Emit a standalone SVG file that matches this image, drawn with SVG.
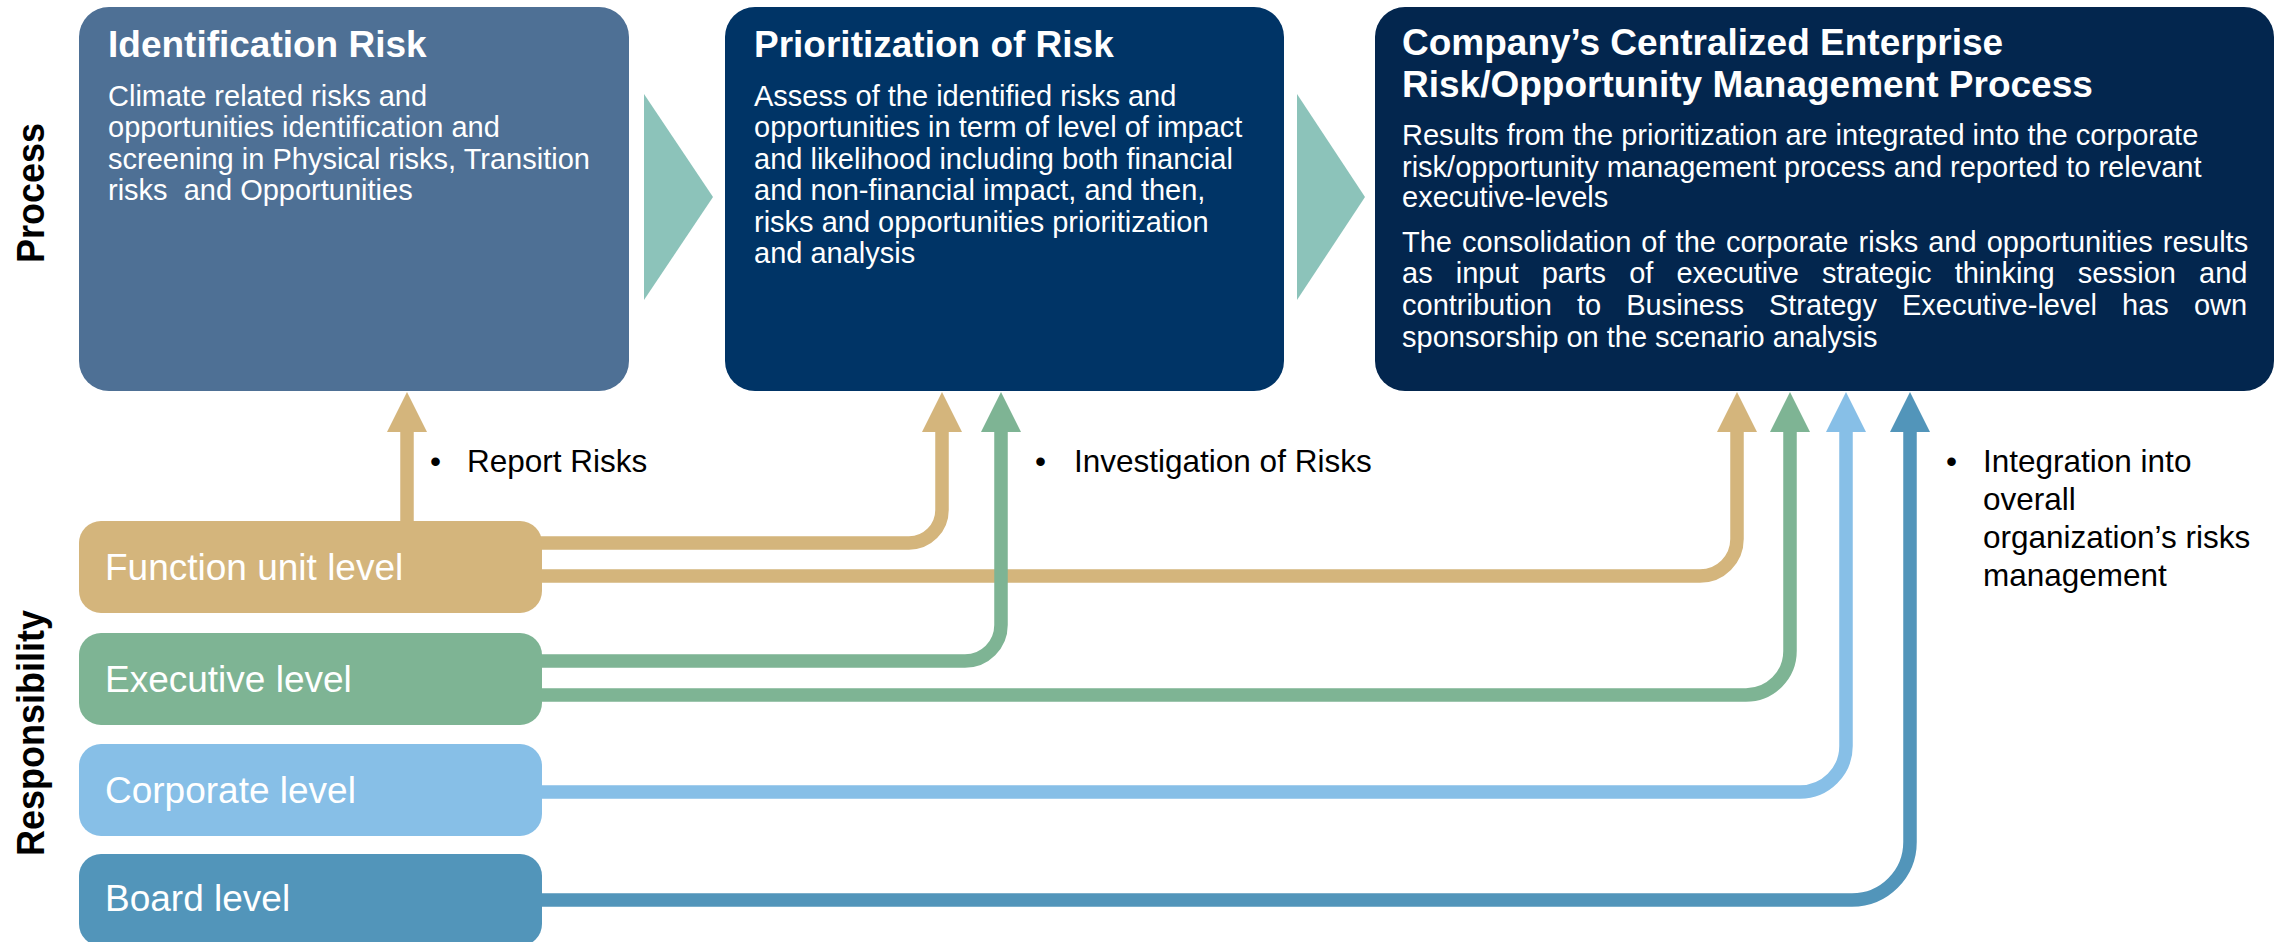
<svg xmlns="http://www.w3.org/2000/svg" xmlns:xlink="http://www.w3.org/1999/xlink" width="2285" height="942" viewBox="0 0 2285 942">
  <style>
    .ttl { font-family: "Liberation Sans", Arial, sans-serif; font-weight: bold; font-size: 37px; fill: #ffffff; }
    .body { font-family: "Liberation Sans", Arial, sans-serif; font-size: 29px; fill: #ffffff; }
    .lvl { font-family: "Liberation Sans", Arial, sans-serif; font-size: 37px; fill: #ffffff; }
    .note { font-family: "Liberation Sans", Arial, sans-serif; font-size: 31.5px; fill: #000000; }
    .side { font-family: "Liberation Sans", Arial, sans-serif; font-weight: bold; font-size: 36px; fill: #000000; }
    .conn { fill: none; stroke-width: 13.5; stroke-linecap: butt; }
    .tan { stroke: #D4B57C; }
    .grn { stroke: #7EB494; }
    .lbl { stroke: #87BFE7; }
    .brd { stroke: #5295BA; }
    .chev { fill: #8CC3BA; }
  </style>
  <defs>
    <!-- arrowhead, tip at origin, pointing up -->
    <path id="head" d="M0,0 L-20,40 L20,40 Z"/>
  </defs>

  <rect width="2285" height="942" fill="#ffffff"/>

  <!-- side captions -->
  <text class="side" text-anchor="middle" transform="translate(44,193) rotate(-90) scale(1,1.1)">Process</text>
  <text class="side" text-anchor="middle" transform="translate(44,733) rotate(-90) scale(1,1.1)">Responsibility</text>

  <!-- connectors -->
  <g id="connectors">
    <path class="conn tan" d="M407,530 V431"/>
    <use xlink:href="#head" x="407" y="392" fill="#D4B57C"/>

    <path class="conn tan" d="M530,543 H909 A33,33 0 0 0 942,510 V431"/>
    <use xlink:href="#head" x="942" y="392" fill="#D4B57C"/>

    <path class="conn tan" d="M530,576 H1700 A37,37 0 0 0 1737,539 V431"/>
    <use xlink:href="#head" x="1737" y="392" fill="#D4B57C"/>

    <path class="conn grn" d="M530,661 H965 A36,36 0 0 0 1001,625 V431"/>
    <use xlink:href="#head" x="1001" y="392" fill="#7EB494"/>

    <path class="conn grn" d="M530,695 H1746 A44,44 0 0 0 1790,651 V431"/>
    <use xlink:href="#head" x="1790" y="392" fill="#7EB494"/>

    <path class="conn lbl" d="M530,792 H1800 A46,46 0 0 0 1846,746 V431"/>
    <use xlink:href="#head" x="1846" y="392" fill="#87BFE7"/>

    <path class="conn brd" d="M530,900 H1852 A58,58 0 0 0 1910,842 V431"/>
    <use xlink:href="#head" x="1910" y="392" fill="#5295BA"/>
  </g>

  <!-- process chevrons -->
  <g id="chevrons">
    <polygon class="chev" points="644,94 713,197 644,300"/>
    <polygon class="chev" points="1297,94 1365,197 1297,300"/>
  </g>

  <!-- process steps -->
  <g id="identification">
    <rect x="79" y="7" width="550" height="384" rx="30" fill="#4E7095"/>
    <text class="ttl" x="108" y="57">Identification Risk</text>
    <text class="body" x="108" y="106">Climate related risks and</text>
    <text class="body" x="108" y="137">opportunities identification and</text>
    <text class="body" x="108" y="169">screening in Physical risks, Transition</text>
    <text class="body" x="108" y="200" xml:space="preserve">risks  and Opportunities</text>
  </g>

  <g id="prioritization">
    <rect x="725" y="7" width="559" height="384" rx="30" fill="#003466"/>
    <text class="ttl" x="754" y="57">Prioritization of Risk</text>
    <text class="body" x="754" y="106">Assess of the identified risks and</text>
    <text class="body" x="754" y="137">opportunities in term of level of impact</text>
    <text class="body" x="754" y="169">and likelihood including both financial</text>
    <text class="body" x="754" y="200">and non-financial impact, and then,</text>
    <text class="body" x="754" y="232">risks and opportunities prioritization</text>
    <text class="body" x="754" y="263">and analysis</text>
  </g>

  <g id="enterprise">
    <rect x="1375" y="7" width="899" height="384" rx="30" fill="#03264E"/>
    <text class="ttl" x="1402" y="55">Company’s Centralized Enterprise</text>
    <text class="ttl" x="1402" y="97">Risk/Opportunity Management Process</text>
    <text class="body" x="1402" y="145">Results from the prioritization are integrated into the corporate</text>
    <text class="body" x="1402" y="177">risk/opportunity management process and reported to relevant</text>
    <text class="body" x="1402" y="207">executive-levels</text>
    <text class="body" x="1402" y="252" word-spacing="2">The consolidation of the corporate risks and opportunities results</text>
    <text class="body" x="1402" y="283" word-spacing="15">as input parts of executive strategic thinking session and</text>
    <text class="body" x="1402" y="315" word-spacing="17">contribution to Business Strategy Executive-level has own</text>
    <text class="body" x="1402" y="347">sponsorship on the scenario analysis</text>
  </g>

  <!-- responsibility levels -->
  <g id="function-unit">
    <rect x="79" y="521" width="463" height="92" rx="22" fill="#D4B57C"/>
    <text class="lvl" x="105" y="580">Function unit level</text>
  </g>
  <g id="executive">
    <rect x="79" y="633" width="463" height="92" rx="22" fill="#7EB494"/>
    <text class="lvl" x="105" y="692">Executive level</text>
  </g>
  <g id="corporate">
    <rect x="79" y="744" width="463" height="92" rx="22" fill="#87BFE7"/>
    <text class="lvl" x="105" y="803">Corporate level</text>
  </g>
  <g id="board">
    <rect x="79" y="854" width="463" height="92" rx="22" fill="#5295BA"/>
    <text class="lvl" x="105" y="911">Board level</text>
  </g>

  <!-- flow notes -->
  <g id="note-report">
    <text class="note" x="430" y="472">•</text>
    <text class="note" x="467" y="472">Report Risks</text>
  </g>
  <g id="note-investigation">
    <text class="note" x="1035" y="472">•</text>
    <text class="note" x="1074" y="472">Investigation of Risks</text>
  </g>
  <g id="note-integration">
    <text class="note" x="1946" y="472">•</text>
    <text class="note" x="1983" y="472">Integration into</text>
    <text class="note" x="1983" y="510">overall</text>
    <text class="note" x="1983" y="548">organization’s risks</text>
    <text class="note" x="1983" y="586">management</text>
  </g>
</svg>
